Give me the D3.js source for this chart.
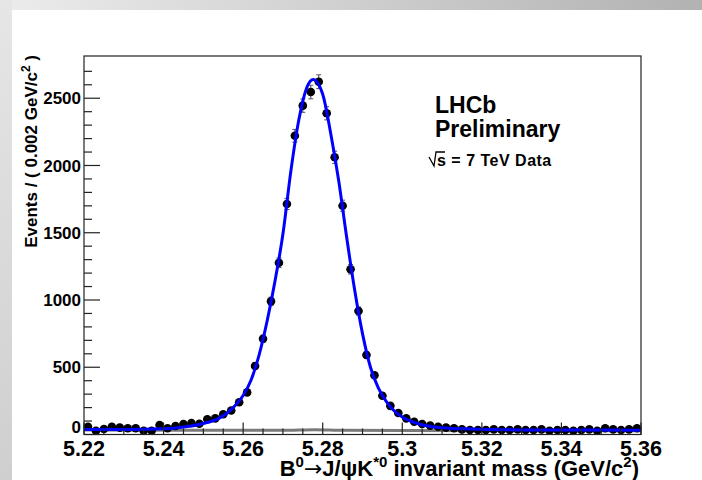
<!DOCTYPE html>
<html>
<head>
<meta charset="utf-8">
<script src="https://cdn.jsdelivr.net/npm/d3@7/dist/d3.min.js"></script>
<style>
  body { margin: 0; background: #fff; }
  text { font-family: "Liberation Sans", Arial, Helvetica, sans-serif; font-weight: bold; fill: #000; }
</style>
</head>
<body>
<div id="chart"></div>
<script>
// binned data, 0.002 GeV bins from 5.22 to 5.36
var massLow = 5.22;
var binWidth = 0.002;
var events = [
  58, 28, 41, 58, 51, 46, 46, 28, 28, 71,
  46, 63, 78, 85, 80, 113, 120, 150, 178, 240,
  313, 509, 712, 990, 1277, 1714, 2221, 2445, 2546, 2623,
  2388, 2061, 1701, 1228, 918, 591, 440, 288, 213, 160,
  120, 95, 78, 66, 58, 51, 46, 38, 33, 33,
  33, 38, 33, 33, 38, 33, 33, 38, 28, 33,
  33, 28, 33, 38, 28, 46, 38, 33, 38, 46
];

// fitted total pdf (blue)
var fitMass = [5.220, 5.230, 5.240, 5.245, 5.250, 5.254, 5.256, 5.258, 5.260, 5.262,
  5.264, 5.266, 5.268, 5.270, 5.272, 5.274, 5.276, 5.2776, 5.280, 5.282,
  5.284, 5.286, 5.288, 5.290, 5.292, 5.294, 5.296, 5.298, 5.300, 5.304,
  5.308, 5.315, 5.330, 5.360];
var fitEvents = [38, 38, 42, 55, 82, 122, 160, 215, 290, 405,
  590, 840, 1140, 1490, 1960, 2340, 2580, 2640, 2530, 2240,
  1890, 1470, 1080, 750, 500, 345, 245, 175, 130, 80,
  56, 42, 34, 32];

// background component (grey)
var bkgMass = [5.22, 5.25, 5.27, 5.278, 5.285, 5.30, 5.33, 5.36];
var bkgEvents = [34, 31, 31, 36, 31, 29, 28, 28];

var yTicks = [0, 500, 1000, 1500, 2000, 2500];
var xTicks = [5.22, 5.24, 5.26, 5.28, 5.30, 5.32, 5.34, 5.36];
var xTickLabels = ["5.22", "5.24", "5.26", "5.28", "5.3", "5.32", "5.34", "5.36"];

var w = 702, h = 480;
var padL = 84, padR = 641, padT = 56, padB = 434.5;

var svg = d3.select("#chart").append("svg")
  .attr("width", w)
  .attr("height", h);

// grey canvas border
var defs = svg.append("defs");
var gTop = defs.append("linearGradient").attr("id", "gtop");
gTop.append("stop").attr("offset", "0%").attr("stop-color", "#ececec");
gTop.append("stop").attr("offset", "100%").attr("stop-color", "#b2b2b2");
var gLeft = defs.append("linearGradient").attr("id", "gleft")
  .attr("x1", 0).attr("y1", 0).attr("x2", 0).attr("y2", 1);
gLeft.append("stop").attr("offset", "0%").attr("stop-color", "#e6e6e6");
gLeft.append("stop").attr("offset", "100%").attr("stop-color", "#cfcfcf");
svg.append("rect").attr("x", 0).attr("y", 0).attr("width", w).attr("height", 10).attr("fill", "url(#gtop)");
svg.append("rect").attr("x", 0).attr("y", 0).attr("width", 12).attr("height", h).attr("fill", "url(#gleft)");

var x = d3.scaleLinear().domain([5.22, 5.36]).range([padL, padR]);
var y = d3.scaleLinear().domain([0, 2814]).range([padB, padT]);

var bins = events.map(function (v, i) {
  return { m: massLow + binWidth * (i + 0.5), n: v };
});

var plot = svg.append("g");

// background pdf
var line = d3.line().curve(d3.curveMonotoneX);
plot.append("path")
  .attr("d", line(bkgMass.map(function (m, i) { return [x(m), y(bkgEvents[i])]; })))
  .attr("fill", "none")
  .attr("stroke", "#7a7a7a")
  .attr("stroke-width", 3);

// data points with errors
var pts = plot.append("g").selectAll(".pt").data(bins).enter().append("g");
pts.append("line")
  .attr("x1", function (d) { return x(d.m); })
  .attr("x2", function (d) { return x(d.m); })
  .attr("y1", function (d) { return y(d.n - Math.sqrt(d.n)); })
  .attr("y2", function (d) { return y(d.n + Math.sqrt(d.n)); })
  .attr("stroke", "#444").attr("stroke-width", 1);
pts.append("line")
  .attr("x1", function (d) { return x(d.m - binWidth / 2); })
  .attr("x2", function (d) { return x(d.m + binWidth / 2); })
  .attr("y1", function (d) { return y(d.n); })
  .attr("y2", function (d) { return y(d.n); })
  .attr("stroke", "#000").attr("stroke-width", 1);
pts.selectAll(".cap").data(function (d) { return [d.n - Math.sqrt(d.n), d.n + Math.sqrt(d.n)].map(function (v) { return { m: d.m, v: v }; }); })
  .enter().append("line")
  .attr("x1", function (d) { return x(d.m) - 2.5; })
  .attr("x2", function (d) { return x(d.m) + 2.5; })
  .attr("y1", function (d) { return y(d.v); })
  .attr("y2", function (d) { return y(d.v); })
  .attr("stroke", "#555").attr("stroke-width", 1);
pts.append("circle")
  .attr("cx", function (d) { return x(d.m); })
  .attr("cy", function (d) { return y(d.n); })
  .attr("r", 4.3)
  .attr("fill", "#000");

// total fit
plot.append("path")
  .attr("d", line(fitMass.map(function (m, i) { return [x(m), y(fitEvents[i])]; })))
  .attr("fill", "none")
  .attr("stroke", "#0000ff")
  .attr("stroke-width", 3);

// frame
svg.append("rect")
  .attr("x", padL).attr("y", padT)
  .attr("width", padR - padL).attr("height", padB - padT)
  .attr("fill", "none").attr("stroke", "#222").attr("stroke-width", 1.2);

// y ticks
var yMinor = d3.range(0, 2800, 100);
svg.append("g").selectAll("line").data(yMinor).enter().append("line")
  .attr("x1", padL)
  .attr("x2", function (d) { return padL + (d % 500 === 0 ? 16 : 8); })
  .attr("y1", function (d) { return y(d); })
  .attr("y2", function (d) { return y(d); })
  .attr("stroke", "#222").attr("stroke-width", 1.2);
svg.append("g").selectAll("text").data(yTicks).enter().append("text")
  .attr("x", padL - 3)
  .attr("y", function (d) { return y(d); })
  .attr("dy", function (d) { return d === 0 ? "-0.1em" : "0.36em"; })
  .attr("text-anchor", "end")
  .style("font-size", "17px")
  .text(function (d) { return d; });

// x ticks
var xMinor = d3.range(0, 29).map(function (i) { return 5.22 + i * 0.005; });
svg.append("g").selectAll("line").data(xMinor).enter().append("line")
  .attr("x1", function (d) { return x(d); })
  .attr("x2", function (d) { return x(d); })
  .attr("y1", padB)
  .attr("y2", function (d, i) { return padB - (i % 4 === 0 ? 12 : 6); })
  .attr("stroke", "#222").attr("stroke-width", 1.2);
svg.append("g").selectAll("text").data(xTicks).enter().append("text")
  .attr("x", function (d) { return x(d); })
  .attr("y", 456)
  .attr("text-anchor", "middle")
  .style("font-size", "21.5px")
  .text(function (d, i) { return xTickLabels[i]; });

// x title
var xt = svg.append("text")
  .attr("x", 639).attr("y", 476)
  .attr("text-anchor", "end")
  .style("font-size", "22px");
xt.append("tspan").text("B");
xt.append("tspan").attr("dy", -9).style("font-size", "15px").text("0");
xt.append("tspan").attr("dy", 9).style("font-family", "DejaVu Sans").style("font-weight", "normal").text("\u2192");
xt.append("tspan").text("J/\u03C8K");
xt.append("tspan").attr("dy", -9).style("font-size", "15px").text("*0");
xt.append("tspan").attr("dy", 9).text(" invariant mass (GeV/c");
xt.append("tspan").attr("dy", -9).style("font-size", "15px").text("2");
xt.append("tspan").attr("dy", 9).text(")");

// y title
var yt = svg.append("text")
  .attr("transform", "translate(37,55) rotate(-90)")
  .attr("text-anchor", "end")
  .style("font-size", "17px");
yt.append("tspan").text("Events / ( 0.002 GeV/c");
yt.append("tspan").attr("dy", -7).style("font-size", "12px").text("2");
yt.append("tspan").attr("dy", 7).text("  )");

// LHCb label
svg.append("text").attr("x", 435).attr("y", 113).style("font-size", "23px").text("LHCb");
svg.append("text").attr("x", 435).attr("y", 137).style("font-size", "23px").text("Preliminary");
svg.append("path")
  .attr("d", "M429,157 L434,166 L436,152 L445,152")
  .attr("fill", "none").attr("stroke", "#000").attr("stroke-width", 1.3);
svg.append("text").attr("x", 437).attr("y", 166)
  .style("font-size", "16px").style("letter-spacing", "0.5px")
  .text("s = 7 TeV Data");
</script>
</body>
</html>
